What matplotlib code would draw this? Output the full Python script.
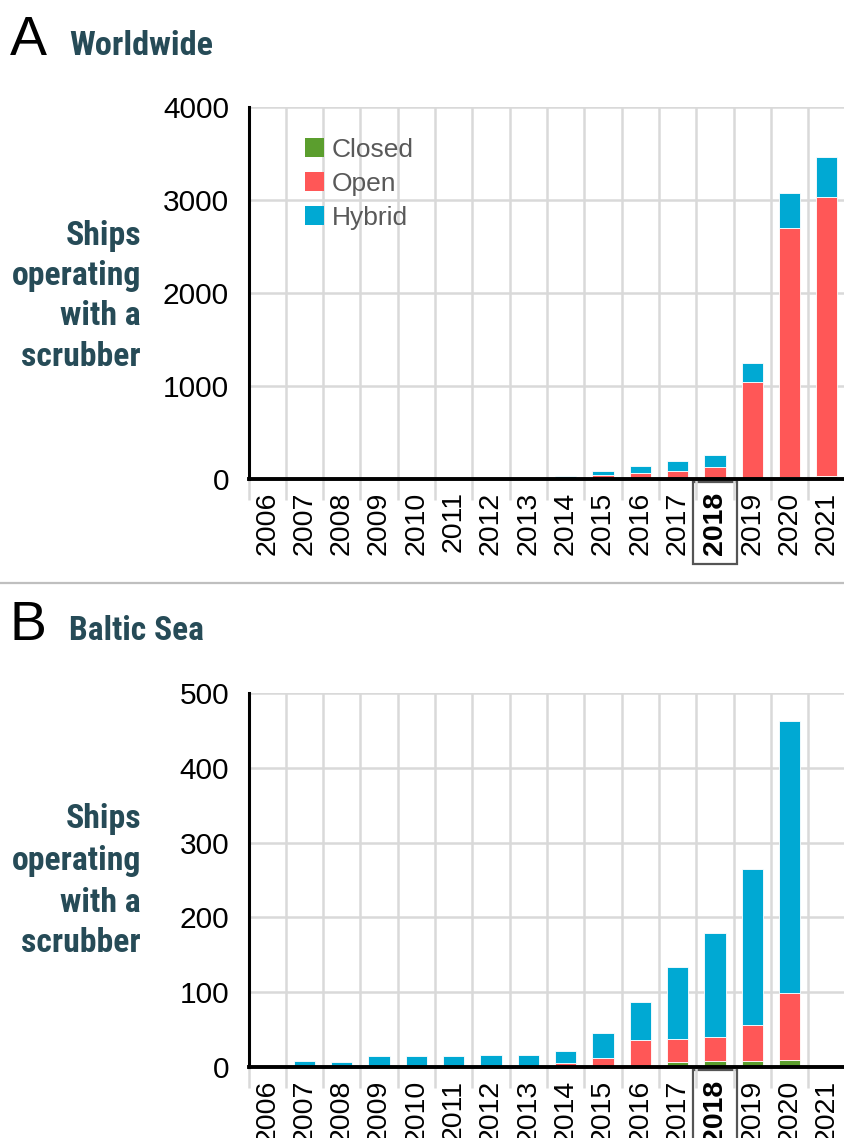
import matplotlib
matplotlib.use("Agg")
import matplotlib.pyplot as plt
from matplotlib import font_manager
from matplotlib.lines import Line2D
from matplotlib.patches import Patch
import numpy as np

years = [str(y) for y in range(2006, 2022)]

world_closed = [0, 0, 0, 0, 0, 0, 0, 0, 0, 2, 3, 4, 5, 15, 25, 30]
world_open = [0, 0, 0, 0, 0, 0, 0, 0, 3, 40, 60, 85, 120, 1030, 2675, 3000]
world_hybrid = [0, 2, 2, 3, 3, 3, 4, 4, 27, 46, 82, 101, 130, 200, 375, 430]

baltic_closed = [0, 0, 0, 0, 0, 0, 0, 0, 0, 1, 2, 7, 8, 8, 10, 0]
baltic_open = [0, 0, 0, 0, 2, 0, 0, 2, 6, 12, 34, 31, 32, 49, 89, 0]
baltic_hybrid = [1, 9, 7, 15, 13, 15, 17, 14, 16, 33, 51, 96, 139, 208, 363, 0]

series_names = ["Closed", "Open", "Hybrid"]
ylabel_lines = ["Ships", "operating", "with a", "scrubber"]
colors = ["#5b9e2e", "#ff5757", "#00a9d3"]
teal = "#264b57"

avail = {f.name for f in font_manager.fontManager.ttflist}
base_font = "Liberation Sans" if "Liberation Sans" in avail else "DejaVu Sans"
narrow_font = base_font
for cand in ["Liberation Sans Narrow", "Arial Narrow", "Roboto Condensed",
             "Open Sans Condensed", "Roboto"]:
    if cand in avail:
        narrow_font = cand
        break
plt.rcParams["font.family"] = [base_font, "DejaVu Sans"]

W, H = 844, 1138
fig = plt.figure(figsize=(W / 100, H / 100), dpi=100)
renderer = fig.canvas.get_renderer()


def fx(px):
    return px / W


def fy(py):
    return 1 - py / H


def fit_text(x, y, s, target_w, size0, **kw):
    t = fig.text(x, y, s, fontsize=size0, **kw)
    w = t.get_window_extent(renderer).width
    t.set_fontsize(size0 * target_w / w)
    return t


def ylabel_size():
    t = fig.text(0, 0, "operating", fontsize=23, fontweight="bold",
                 family=[narrow_font, base_font])
    w = t.get_window_extent(renderer).width
    t.remove()
    return 23 * 130.0 / w


YL_SIZE = ylabel_size()


def make_panel(top_px, bot_px, closed, opn, hybrid, ymax, ystep, letter, title,
               title_base, title_w, ylab_bases, legend=False):
    left_px, right_px = 248.5, 845.5
    ax = fig.add_axes([fx(left_px), fy(bot_px), (right_px - left_px) / W,
                       (bot_px - top_px) / H])
    x = np.arange(len(years))
    closed = np.array(closed, float)
    opn = np.array(opn, float)
    hybrid = np.array(hybrid, float)
    kw = dict(width=0.57, edgecolor="white", linewidth=0.6, zorder=3)
    ax.bar(x, closed, color=colors[0], **kw)
    ax.bar(x, opn, bottom=closed, color=colors[1], **kw)
    ax.bar(x, hybrid, bottom=closed + opn, color=colors[2], **kw)

    ax.set_xlim(-0.5, len(years) - 0.5)
    ax.set_ylim(0, ymax)
    ax.set_yticks(np.arange(0, ymax + 1, ystep))
    ax.set_xticks(x)
    ax.set_xticks(np.arange(-0.5, len(years), 1.0), minor=True)
    ax.set_xticklabels(years, rotation=90, fontsize=20.5)
    for lab in ax.get_xticklabels():
        if lab.get_text() == "2018":
            lab.set_fontweight("bold")
            lab.set_bbox(dict(boxstyle="square,pad=0.33", facecolor="none",
                              edgecolor="#555555", linewidth=1.6))
    ax.tick_params(axis="x", which="major", length=0, pad=9)
    ax.tick_params(axis="x", which="minor", length=15, width=1.8,
                   color="#d9d9d9", direction="out")
    ax.tick_params(axis="y", length=0, pad=14, labelsize=21.5)
    ax.set_axisbelow(True)
    ax.grid(which="minor", axis="x", color="#d9d9d9", linewidth=1.8, zorder=0)
    ax.grid(which="major", axis="y", color="#d9d9d9", linewidth=1.8, zorder=0)
    ax.grid(which="major", axis="x", visible=False)
    for s in ["top", "right"]:
        ax.spines[s].set_visible(False)
    ax.spines["left"].set_linewidth(2.2)
    ax.spines["bottom"].set_linewidth(2.8)
    ax.spines["left"].set_zorder(4)
    ax.spines["bottom"].set_zorder(4)

    fig.text(fx(10), fy(title_base), letter, fontsize=40, va="baseline",
             ha="left", color="black")
    fit_text(fx(69), fy(title_base), title, title_w, 24, fontweight="bold",
             va="baseline", ha="left", color=teal,
             family=[narrow_font, base_font])
    for line, yb in zip(ylabel_lines, ylab_bases):
        fig.text(fx(141), fy(yb), line, fontsize=YL_SIZE, fontweight="bold",
                 ha="right", va="baseline", color=teal,
                 family=[narrow_font, base_font])

    if legend:
        handles = [Patch(facecolor=c, edgecolor="none") for c in colors]
        leg = ax.legend(handles, series_names, loc="upper left",
                        bbox_to_anchor=(0.094, 0.917), frameon=False,
                        fontsize=19, handlelength=0.72, handleheight=0.72,
                        handletextpad=0.3, labelspacing=0.38, borderpad=0,
                        borderaxespad=0)
        for t in leg.get_texts():
            t.set_color("#595959")
    return ax


make_panel(107, 479, world_closed, world_open, world_hybrid, 4000, 1000,
           "A", "Worldwide", 55, 144, [245, 285, 325, 366], legend=True)
make_panel(692.7, 1067.3, baltic_closed, baltic_open, baltic_hybrid, 500, 100,
           "B", "Baltic Sea", 640, 135, [828, 870, 912, 952])

fig.add_artist(Line2D([0, 1], [fy(583), fy(583)], color="#bfbfbf",
                      linewidth=1.6, transform=fig.transFigure))

fig.savefig("out.png", dpi=100)
